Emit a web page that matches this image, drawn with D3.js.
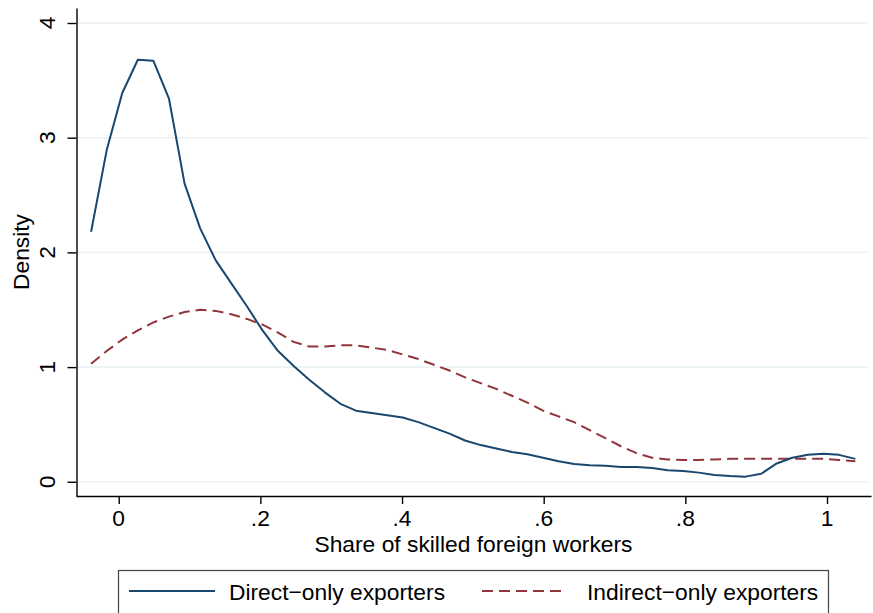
<!DOCTYPE html>
<html>
<head>
<meta charset="utf-8">
<script src="https://cdn.jsdelivr.net/npm/d3@7"></script>
<style>
  html, body { margin: 0; padding: 0; background: #ffffff; }
  svg { display: block; font-family: "Liberation Sans", Arial, Helvetica, sans-serif; }
</style>
</head>
<body>
<svg id="chart" width="873" height="613"></svg>
<script>
// ---- Data ----
const xGrid = [-0.039, -0.017, 0.005, 0.027, 0.049, 0.071, 0.093, 0.115, 0.137, 0.159,
               0.181, 0.203, 0.225, 0.247, 0.269, 0.291, 0.313, 0.335, 0.357, 0.379,
               0.401, 0.423, 0.445, 0.467, 0.489, 0.511, 0.533, 0.555, 0.577, 0.599,
               0.621, 0.643, 0.665, 0.687, 0.709, 0.731, 0.753, 0.775, 0.797, 0.819,
               0.841, 0.863, 0.885, 0.907, 0.929, 0.951, 0.973, 0.995, 1.017, 1.040];

const directOnly = [2.18, 2.89, 3.39, 3.68, 3.67, 3.34, 2.60, 2.21, 1.93, 1.73,
                    1.53, 1.32, 1.14, 1.01, 0.89, 0.78, 0.68, 0.62, 0.60, 0.58,
                    0.56, 0.52, 0.47, 0.42, 0.36, 0.32, 0.29, 0.26, 0.24, 0.21,
                    0.18, 0.155, 0.145, 0.14, 0.13, 0.13, 0.12, 0.10, 0.095, 0.08,
                    0.06, 0.05, 0.045, 0.07, 0.16, 0.21, 0.235, 0.245, 0.235, 0.20];

const indirectOnly = [1.03, 1.14, 1.24, 1.32, 1.39, 1.44, 1.48, 1.50, 1.49, 1.46,
                      1.42, 1.37, 1.30, 1.22, 1.18, 1.18, 1.19, 1.19, 1.17, 1.15,
                      1.11, 1.07, 1.02, 0.97, 0.91, 0.86, 0.81, 0.75, 0.69, 0.62,
                      0.57, 0.52, 0.45, 0.38, 0.31, 0.25, 0.21, 0.195, 0.19, 0.19,
                      0.195, 0.20, 0.20, 0.20, 0.20, 0.20, 0.20, 0.20, 0.19, 0.18];

const xTicks = [0, 0.2, 0.4, 0.6, 0.8, 1];
const xTickLabels = ["0", ".2", ".4", ".6", ".8", "1"];
const yTicks = [0, 1, 2, 3, 4];
const yTickLabels = ["0", "1", "2", "3", "4"];

const seriesNames = ["Direct\u2212only exporters", "Indirect\u2212only exporters"];
const xTitle = "Share of skilled foreign workers";
const yTitle = "Density";

// ---- Layout ----
const plotLeft = 76.5, plotRight = 871, plotTop = 8, plotBottom = 496;
const colBlue = "#1a476f", colRed = "#90353b";
const fontSize = 22.8;

const svg = d3.select("#chart");

const x = d3.scaleLinear().domain([-0.0603, 1.0621]).range([76, plotRight]);
const y = d3.scaleLinear().domain([-0.1238, 4.1308]).range([plotBottom, plotTop]);

// Gridlines
svg.append("g").selectAll("line").data(yTicks).join("line")
  .attr("x1", plotLeft + 1).attr("x2", 868)
  .attr("y1", d => y(d)).attr("y2", d => y(d))
  .attr("stroke", "#eaf2f3").attr("stroke-width", 1.6);

// Lines
const line = d3.line().x(d => x(d[0])).y(d => y(d[1]));
svg.append("path")
  .datum(xGrid.map((v, i) => [v, indirectOnly[i]]))
  .attr("d", line).attr("fill", "none")
  .attr("stroke", colRed).attr("stroke-width", 2)
  .attr("stroke-dasharray", "11,6");
svg.append("path")
  .datum(xGrid.map((v, i) => [v, directOnly[i]]))
  .attr("d", line).attr("fill", "none")
  .attr("stroke", colBlue).attr("stroke-width", 2)
  .attr("stroke-linejoin", "round");

// Axes
const xAxis = d3.axisBottom(x).tickValues(xTicks).tickSize(8).tickSizeOuter(0).tickFormat(() => "");
const gx = svg.append("g").attr("transform", `translate(0,${plotBottom})`).call(xAxis);
gx.selectAll("path, line").attr("stroke", "#000").attr("stroke-width", 1.4);

const yAxis = d3.axisLeft(y).tickValues(yTicks).tickSize(9).tickSizeOuter(0).tickFormat(() => "");
const gy = svg.append("g").attr("transform", `translate(${plotLeft},0)`).call(yAxis);
gy.selectAll("path, line").attr("stroke", "#000").attr("stroke-width", 1.4);

// Tick labels
svg.append("g").selectAll("text").data(xTicks).join("text")
  .attr("x", d => x(d)).attr("y", 526)
  .attr("text-anchor", "middle").attr("font-size", fontSize).attr("fill", "#000")
  .text((d, i) => xTickLabels[i]);

svg.append("g").selectAll("text").data(yTicks).join("text")
  .attr("transform", d => `translate(55,${y(d)}) rotate(-90)`)
  .attr("text-anchor", "middle").attr("font-size", fontSize).attr("fill", "#000")
  .text((d, i) => yTickLabels[i]);

// Axis titles
svg.append("text").attr("x", (76 + plotRight) / 2).attr("y", 552)
  .attr("text-anchor", "middle").attr("font-size", fontSize).attr("fill", "#000")
  .text(xTitle);
svg.append("text").attr("transform", `translate(29,${(plotTop + plotBottom) / 2}) rotate(-90)`)
  .attr("text-anchor", "middle").attr("font-size", fontSize).attr("fill", "#000")
  .text(yTitle);

// Legend
const lg = svg.append("g");
lg.append("rect").attr("x", 118.5).attr("y", 570.5).attr("width", 710).attr("height", 50)
  .attr("fill", "#fff").attr("stroke", "#444").attr("stroke-width", 1.2);
const legendItems = [
  { name: seriesNames[0], color: colBlue, dash: null, x1: 129, x2: 215, tx: 229 },
  { name: seriesNames[1], color: colRed, dash: "11,6", x1: 482, x2: 566, tx: 587 }
];
legendItems.forEach(it => {
  lg.append("line").attr("x1", it.x1).attr("x2", it.x2).attr("y1", 591).attr("y2", 591)
    .attr("stroke", it.color).attr("stroke-width", 2)
    .attr("stroke-dasharray", it.dash);
  lg.append("text").attr("x", it.tx).attr("y", 600)
    .attr("font-size", fontSize).attr("fill", "#000").text(it.name);
});
</script>
</body>
</html>
